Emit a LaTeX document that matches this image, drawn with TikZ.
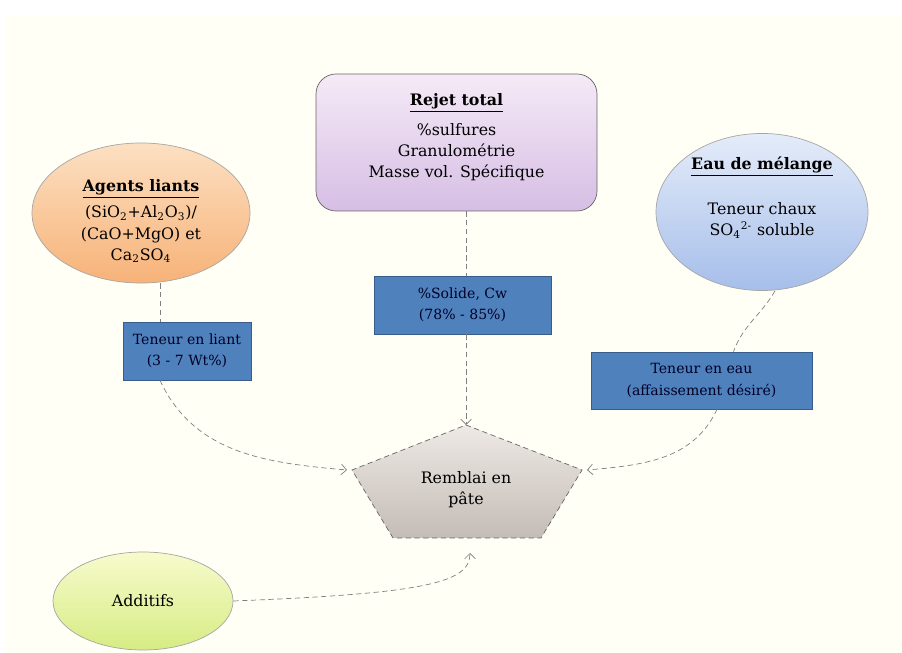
\documentclass[tikz,border=0pt]{standalone}
\usepackage{fontspec}
\setmainfont{DejaVu Serif}
\usetikzlibrary{shapes.geometric,arrows.meta}
\definecolor{cream}{RGB}{255,255,246}
\definecolor{peachtop}{RGB}{252,224,194}
\definecolor{peachbot}{RGB}{247,178,120}
\definecolor{lilactop}{RGB}{245,234,247}
\definecolor{lilacbot}{RGB}{214,190,228}
\definecolor{skytop}{RGB}{228,236,249}
\definecolor{skybot}{RGB}{166,190,234}
\definecolor{limetop}{RGB}{247,251,204}
\definecolor{limebot}{RGB}{214,236,132}
\definecolor{boxblue}{RGB}{79,129,189}
\definecolor{boxedge}{RGB}{56,93,138}
\definecolor{stonetop}{RGB}{238,233,229}
\definecolor{stonebot}{RGB}{196,188,182}

\begin{document}
\begin{tikzpicture}[font=\fontsize{9}{12}\selectfont,
  bubble/.style={ellipse,draw=gray!70,align=center,inner sep=0pt},
  card/.style={rectangle,draw=boxedge,fill=boxblue,text=black!85!blue,align=center,inner sep=0pt,font=\fontsize{8}{12}\selectfont},
  plain/.style={draw=gray,thin,densely dashed},
  link/.style={plain,-{Straight Barb[length=3pt,width=6pt]}}]
\fill[cream] (0.1,-0.3) rectangle (18.04,-13.06);
\useasboundingbox (0,0) rectangle (18.04,-13.06);

\node[bubble,top color=peachtop,bottom color=peachbot,minimum width=4.36cm,minimum height=2.8cm] (liants) at (2.82,-4.26)
  {\rule{0pt}{16pt}\underline{\textbf{Agents liants}}\\[3pt](SiO\textsubscript{2}+Al\textsubscript{2}O\textsubscript{3})/\\(CaO+MgO) et\\Ca\textsubscript{2}SO\textsubscript{4}};
\node[rounded corners=0.4cm,draw=gray!80!black,top color=lilactop,bottom color=lilacbot,minimum width=5.62cm,minimum height=2.74cm,align=center] (rejet) at (9.13,-2.85)
  {\underline{\textbf{Rejet total}}\\[5pt]\%sulfures\\Granulométrie\\Masse vol. Spécifique\\[-4pt]};
\node[bubble,top color=skytop,bottom color=skybot,minimum width=4.24cm,minimum height=2.9cm] (eau) at (15.24,-4.24)
  {\underline{\textbf{Eau de mélange}}\\[14pt]Teneur chaux\\SO\textsubscript{4}\textsuperscript{2-} soluble\\[6pt]};

\node[card,minimum width=2.56cm,minimum height=1.16cm] (tliant) at (3.74,-7.02) {Teneur en liant\\(3 - 7 Wt\%)};
\node[card,minimum width=3.54cm,minimum height=1.16cm] (tsolide) at (9.25,-6.1) {\%Solide, Cw\\(78\% - 85\%)};
\node[card,minimum width=4.42cm,minimum height=1.14cm] (teau) at (14.03,-7.61) {Teneur en eau\\(affaissement désiré)};

\coordinate (pt) at (9.32,-8.5);
\coordinate (pr) at (11.64,-9.4);
\coordinate (pbr) at (10.82,-10.76);
\coordinate (pbl) at (7.86,-10.76);
\coordinate (pl) at (7.04,-9.4);
\coordinate (pbase) at (9.4,-11.06);
\draw[densely dashed,draw=black!60,top color=stonetop,bottom color=stonebot] (pt) -- (pr) -- (pbr) -- (pbl) -- (pl) -- cycle;
\node[align=center] (remblai) at (9.32,-9.8) {Remblai en\\pâte};

\node[bubble,top color=limetop,bottom color=limebot,minimum width=3.6cm,minimum height=1.96cm] (additifs) at (2.86,-12.02) {Additifs};

\draw[plain] ([xshift=0.38cm]liants.south) -- ([xshift=-0.54cm]tliant.north);
\draw[link] ([xshift=-0.54cm]tliant.south) to[out=-65,in=175] ([xshift=-0.1cm]pl);
\draw[plain] (rejet.south -| pt) -- (tsolide.north -| pt);
\draw[link] (tsolide.south -| pt) -- (pt);
\draw[plain] ([xshift=0.26cm]eau.south) to[out=-120,in=70] ([xshift=0.64cm]teau.north);
\draw[link] ([xshift=0.31cm]teau.south) to[out=-115,in=5] ([xshift=0.1cm]pr);
\draw[link] (additifs.east) .. controls +(3.8,0.15) and +(0,-0.6) .. (pbase);
\end{tikzpicture}
\end{document}
